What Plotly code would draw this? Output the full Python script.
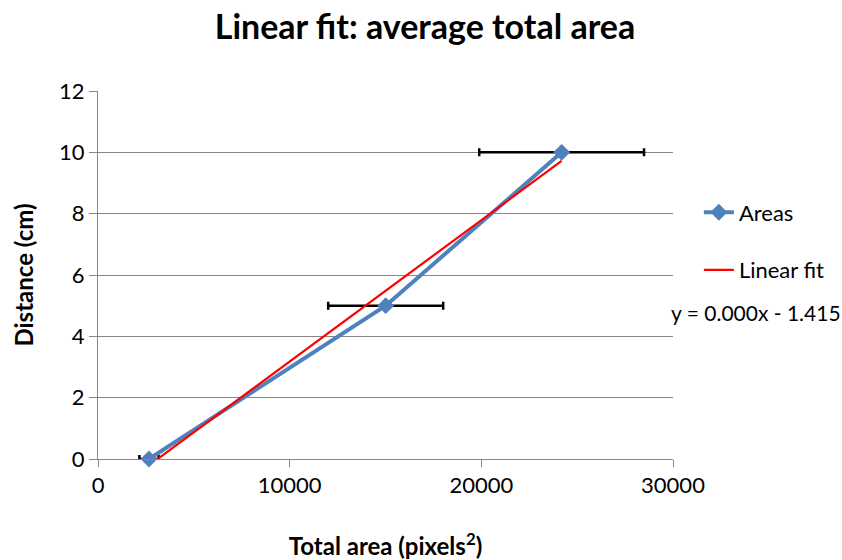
import numpy as np
import plotly.graph_objects as go

# Data
areas = [2660, 15010, 24190]          # total area (pixels^2)
distances = [0, 5, 10]                # distance (cm)
area_err = [500, 3000, 4300]          # horizontal error (pixels^2)
x_ticks = [0, 10000, 20000, 30000]
y_ticks = [0, 2, 4, 6, 8, 10, 12]
equation_text = "y = 0.000x - 1.415"

# linear fit (distance vs area)
slope, intercept = np.polyfit(areas, distances, 1)
fit_x = [min(areas), max(areas)]
fit_y = [slope * v + intercept for v in fit_x]

FONT = "Lato"
BLUE = "#4F81BD"

fig = go.Figure()
fig.add_trace(go.Scatter(
    x=areas, y=distances, mode="lines+markers", name="Areas",
    legendgroup="a",
    line=dict(color=BLUE, width=4),
    marker=dict(symbol="diamond", size=13, color=BLUE),
    error_x=dict(type="data", array=area_err, visible=True,
                 color="black", thickness=2.5, width=4),
    cliponaxis=False,
))
fig.add_trace(go.Scatter(
    x=fit_x, y=fit_y, mode="lines", name="Linear fit",
    legendgroup="b",
    line=dict(color="#FF0000", width=2.2),
))

fig.add_annotation(
    x=(756 - 98) / 575, y=(459 - 312) / 368, xref="paper", yref="paper",
    text=equation_text, showarrow=False,
    font=dict(family=FONT, size=21, color="black"),
    xanchor="center", yanchor="middle",
)

fig.update_layout(
    width=842, height=560,
    paper_bgcolor="white", plot_bgcolor="white",
    margin=dict(l=98, r=169, t=91, b=101),
    title=dict(text="<b>Linear fit: average total area</b>",
               x=425 / 842, xref="container", xanchor="center",
               y=1 - 27 / 560, yref="container", yanchor="middle",
               font=dict(family=FONT, size=34, color="black")),
    font=dict(family=FONT, color="black"),
    legend=dict(x=1.045, xanchor="left", y=0.727, yanchor="top",
                font=dict(family=FONT, size=22, color="black"),
                tracegroupgap=26, bgcolor="rgba(0,0,0,0)"),
    showlegend=True,
)
fig.update_xaxes(
    range=[0, 30000], tickvals=x_ticks, ticktext=[str(v) for v in x_ticks],
    showgrid=False, zeroline=False, automargin=False,
    showline=True, linecolor="#868686", linewidth=1,
    ticks="outside", ticklen=7, tickcolor="#868686",
    tickfont=dict(family=FONT, size=22, color="black"),
    title=dict(text="<b>Total area (pixels<sup>2</sup>)</b>",
               font=dict(family=FONT, size=24, color="black"), standoff=42),
)
fig.update_yaxes(
    range=[0, 12], tickvals=y_ticks, automargin=False,
    showgrid=True, gridcolor="#868686", gridwidth=1, zeroline=False,
    showline=True, linecolor="#868686", linewidth=1,
    ticks="outside", ticklen=8, tickcolor="#868686",
    tickfont=dict(family=FONT, size=22, color="black"),
    title=dict(text="<b>Distance (cm)</b>",
               font=dict(family=FONT, size=24, color="black"), standoff=18),
)

fig.write_html("out.html")
